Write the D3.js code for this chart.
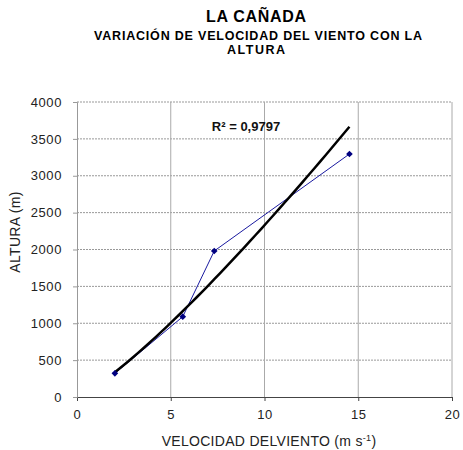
<!DOCTYPE html>
<html>
<head>
<meta charset="utf-8">
<script src="https://cdn.jsdelivr.net/npm/d3@7"></script>
<style>
body { margin: 0; background: #fff; }
text { font-family: Arial, "Liberation Sans", sans-serif; }
</style>
</head>
<body>
<div id="canvas"></div>
<script>
// datos
var velocidad = [2.02, 5.64, 7.32, 14.53];
var altura = [321, 1089, 1980, 3295];
var xTicks = [0, 5, 10, 15, 20];
var yTicks = [0, 500, 1000, 1500, 2000, 2500, 3000, 3500, 4000];
var r2Label = "R² = 0,9797";

var width = 463, height = 450;
var pLeft = 77, pRight = 452, pTop = 102, pBottom = 397;

var svg = d3.select("#canvas").append("svg").attr("width", width).attr("height", height);

var x = d3.scaleLinear().domain([0, 20]).range([pLeft, pRight]);
var y = d3.scaleLinear().domain([0, 4000]).range([pBottom, pTop]);

// titulos
svg.append("text").attr("x", 256).attr("y", 22).attr("text-anchor", "middle")
    .attr("textLength", 100).attr("lengthAdjust", "spacing")
    .style("font-size", "16px").style("font-weight", "bold").text("LA CAÑADA");
svg.append("text").attr("x", 258).attr("y", 39.5).attr("text-anchor", "middle")
    .attr("textLength", 328).attr("lengthAdjust", "spacing")
    .style("font-size", "12.5px").style("font-weight", "bold").text("VARIACIÓN DE VELOCIDAD DEL VIENTO CON LA");
svg.append("text").attr("x", 256).attr("y", 53.5).attr("text-anchor", "middle")
    .attr("textLength", 58).attr("lengthAdjust", "spacing")
    .style("font-size", "12.5px").style("font-weight", "bold").text("ALTURA");

// rejilla horizontal punteada
svg.selectAll("line.hgrid").data(yTicks.slice(1)).enter().append("line")
    .attr("class", "hgrid")
    .attr("x1", pLeft).attr("x2", pRight)
    .attr("y1", function(d) { return y(d); }).attr("y2", function(d) { return y(d); })
    .attr("stroke", "#999").attr("stroke-width", 1).attr("stroke-dasharray", "2,1");

// rejilla vertical
svg.selectAll("line.vgrid").data(xTicks.slice(1)).enter().append("line")
    .attr("class", "vgrid")
    .attr("x1", function(d) { return x(d); }).attr("x2", function(d) { return x(d); })
    .attr("y1", pTop).attr("y2", pBottom)
    .attr("stroke", "#aaa").attr("stroke-width", 1);

// ejes
var xAxis = d3.axisBottom(x).tickValues(xTicks).tickSize(4).tickPadding(9);
var yAxis = d3.axisLeft(y).tickValues(yTicks).tickFormat(d3.format("d")).tickSize(4).tickPadding(11);

var gx = svg.append("g").attr("transform", "translate(0," + pBottom + ")").call(xAxis);
var gy = svg.append("g").attr("transform", "translate(" + pLeft + ",0)").call(yAxis);
gx.select(".domain").attr("stroke", "#444");
gy.select(".domain").attr("stroke", "#999");
gx.selectAll(".tick line").attr("stroke", "#444");
gy.selectAll(".tick line").attr("stroke", "#999");
[gx, gy].forEach(function(g) {
    g.selectAll(".tick text").style("font-size", "13px").style("font-family", "Arial")
        .style("letter-spacing", "0.6px").attr("fill", "#222");
});

// etiquetas de los ejes
var xl = svg.append("text").attr("x", 269).attr("y", 446).attr("text-anchor", "middle")
    .style("font-size", "14px").style("letter-spacing", "0.3px").attr("fill", "#222");
xl.append("tspan").text("VELOCIDAD DELVIENTO (m s");
xl.append("tspan").attr("dy", -5).style("font-size", "9px").text("-1");
xl.append("tspan").attr("dy", 5).text(")");

svg.append("text").attr("transform", "translate(20,232) rotate(-90)").attr("text-anchor", "middle")
    .style("font-size", "14px").style("letter-spacing", "0.3px").attr("fill", "#222").text("ALTURA (m)");

// linea de tendencia potencial ajustada a los datos
var lx = velocidad.map(Math.log), ly = altura.map(Math.log);
var mx = d3.mean(lx), my = d3.mean(ly);
var b = d3.sum(lx, function(v, i) { return (v - mx) * (ly[i] - my); }) / d3.sum(lx, function(v) { return (v - mx) * (v - mx); });
var a = Math.exp(my - b * mx);
var x0 = d3.min(velocidad), x1 = d3.max(velocidad);
var xs = d3.range(0, 41).map(function(i) { return x0 + (x1 - x0) * i / 40; });
var trend = d3.line().x(function(d) { return x(d); }).y(function(d) { return y(a * Math.pow(d, b)); });

// serie
var serie = velocidad.map(function(v, i) { return [v, altura[i]]; });
var line = d3.line().x(function(d) { return x(d[0]); }).y(function(d) { return y(d[1]); });
svg.append("path").datum(serie).attr("d", line)
    .attr("fill", "none").attr("stroke", "#1a1aa0").attr("stroke-width", 1);

svg.append("path").datum(xs).attr("d", trend)
    .attr("fill", "none").attr("stroke", "#000").attr("stroke-width", 2.5);

svg.selectAll("path.pt").data(serie).enter().append("path")
    .attr("class", "pt")
    .attr("d", d3.symbol().type(d3.symbolSquare).size(22))
    .attr("transform", function(d) { return "translate(" + x(d[0]) + "," + y(d[1]) + ") rotate(45)"; })
    .attr("fill", "#000080");

svg.append("text").attr("x", 246).attr("y", 130.5).attr("text-anchor", "middle")
    .style("font-size", "13px").style("font-weight", "bold").attr("fill", "#111").text(r2Label);
</script>
</body>
</html>
